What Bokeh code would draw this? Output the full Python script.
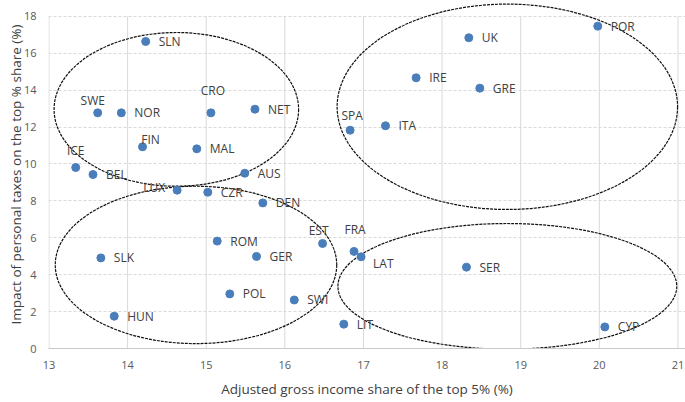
from bokeh.plotting import figure
from bokeh.models import Range1d, FixedTicker, ColumnDataSource
from bokeh.core.properties import value
from bokeh.embed import file_html
from bokeh.resources import INLINE

# ---- data ----
countries = ["SLN", "SWE", "NOR", "CRO", "NET", "FIN", "MAL", "ICE", "BEL", "AUS",
             "LUX", "CZR", "DEN", "EST", "ROM", "GER", "SLK", "POL", "SWI", "HUN",
             "FRA", "LAT", "SER", "LIT", "CYP", "POR", "UK", "IRE", "GRE", "SPA", "ITA"]
income_share = [14.23, 13.62, 13.92, 15.06, 15.62, 14.19, 14.88, 13.34, 13.56, 15.49,
                14.63, 15.02, 15.72, 16.48, 15.14, 15.64, 13.66, 15.30, 16.12, 13.83,
                16.88, 16.97, 18.31, 16.75, 20.07, 19.98, 18.34, 17.67, 18.48, 16.83, 17.28]
tax_impact = [16.64, 12.77, 12.77, 12.77, 12.97, 10.93, 10.82, 9.81, 9.43, 9.50,
              8.58, 8.47, 7.89, 5.69, 5.82, 4.99, 4.91, 2.96, 2.63, 1.75,
              5.26, 4.97, 4.41, 1.32, 1.17, 17.47, 16.84, 14.67, 14.11, 11.83, 12.07]

# cluster ellipses (centre x, centre y, width, height in data units)
ell_x = [14.62, 14.87, 18.83, 18.83]
ell_y = [12.96, 4.53, 13.10, 3.37]
ell_w = [3.11, 3.58, 4.33, 4.31]
ell_h = [8.33, 8.53, 11.13, 6.81]

x_ticks = [13, 14, 15, 16, 17, 18, 19, 20, 21]
y_ticks = [0, 2, 4, 6, 8, 10, 12, 14, 16, 18]

x_title = "Adjusted gross income share of the top 5% (%)"
y_title = "Impact of personal taxes on the top % share (%)"

# ---- label placement (styling) ----
label_place = {  # name: (x_offset px, y_offset px, align)
    "SWE": (-5, -12, "center"),
    "CRO": (2, -22, "center"),
    "FIN": (8, -7, "center"),
    "ICE": (0, -17, "center"),
    "LUX": (-12, -3, "right"),
    "EST": (-4, -13, "center"),
    "FRA": (1, -22, "center"),
    "LAT": (12, 7, "left"),
    "SPA": (2, -15, "center"),
}
dx, dy, al = [], [], []
for c in countries:
    o = label_place.get(c, (13, 0, "left"))
    dx.append(o[0]); dy.append(o[1]); al.append(o[2])

FONT = "Open Sans"

p = figure(width=685, height=402, output_backend="svg", toolbar_location=None,
           x_range=Range1d(12.994, 21.096), y_range=Range1d(0, 18.86),
           min_border_left=48, min_border_right=0, min_border_top=0, min_border_bottom=54)
p.outline_line_color = None
p.background_fill_color = "white"
p.border_fill_color = "white"

# grids
p.xgrid.visible = False
p.ygrid.ticker = FixedTicker(ticks=y_ticks)
p.ygrid.grid_line_color = "#d9d9d9"
p.ygrid.grid_line_dash = "3 2"
p.ygrid.grid_line_width = 1

# vertical gridlines ending at the top tick
p.segment(x0=x_ticks, y0=[y_ticks[0]] * len(x_ticks), x1=x_ticks, y1=[y_ticks[-1]] * len(x_ticks),
          line_color="#d9d9d9", line_width=1)

# axes
p.xaxis.ticker = FixedTicker(ticks=x_ticks)
p.yaxis.ticker = FixedTicker(ticks=y_ticks)
for ax in (p.xaxis[0], p.yaxis[0]):
    ax.major_tick_line_color = None
    ax.minor_tick_line_color = None
    ax.major_tick_out = 0
    ax.major_tick_in = 0
    ax.major_label_text_font = FONT
    ax.major_label_text_font_size = "11px"
    ax.major_label_text_color = "#595959"
    ax.axis_label_text_font = FONT
    ax.axis_label_text_font_size = "13.5px"
    ax.axis_label_text_font_style = "normal"
    ax.axis_label_text_color = "#404040"
p.xaxis.axis_line_color = "#c8c8c8"
p.yaxis.axis_line_color = None
p.xaxis.axis_label = x_title
p.yaxis.axis_label = y_title
p.xaxis.major_label_standoff = 12
p.xaxis.axis_label_standoff = 8
p.yaxis.major_label_standoff = 12
p.yaxis.axis_label_standoff = -4

# ellipses
p.ellipse(x=ell_x, y=ell_y, width=ell_w, height=ell_h, fill_color=None,
          line_color="#111111", line_width=1.2, line_dash="3 1")

src = ColumnDataSource(dict(x=income_share, y=tax_impact, name=countries, dx=dx, dy=dy, al=al))
p.scatter("x", "y", source=src, size=8, fill_color="#4A7EBB", line_color="#4A7EBB")
p.text("x", "y", text="name", source=src, x_offset="dx", y_offset="dy", text_align="al",
       text_baseline="middle", text_font=value(FONT), text_font_size="12px", text_color="#404040")

open("out.html", "w").write(file_html(p, INLINE))
